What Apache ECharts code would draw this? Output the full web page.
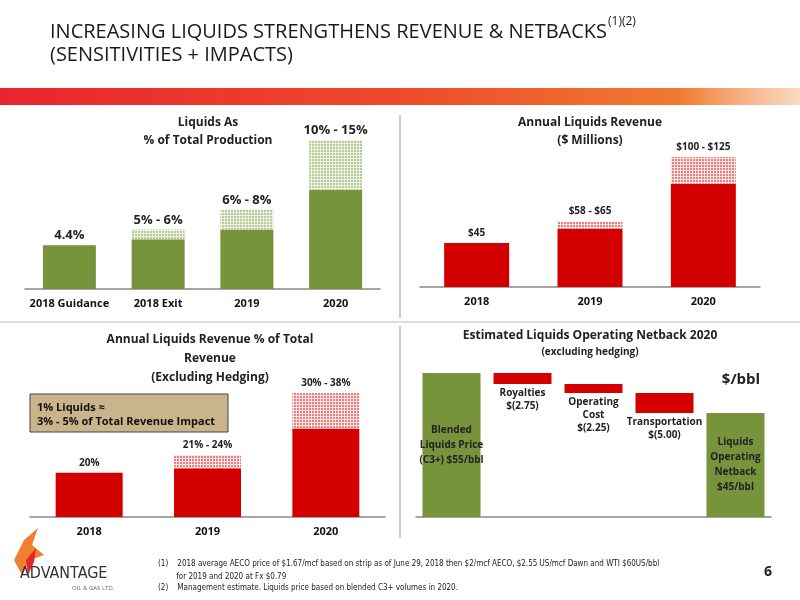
<!DOCTYPE html>
<html><head><meta charset="utf-8">
<script src="https://cdn.jsdelivr.net/npm/echarts@6/dist/echarts.min.js"></script>
<style>html,body{margin:0;padding:0;background:#fff}#c{width:800px;height:600px}</style>
</head><body><div id="c"></div>
<script>
// Chart 1: Liquids as % of total production
const prodCats = ['2018 Guidance', '2018 Exit', '2019', '2020'];
const prodLow = [4.4, 5, 6, 10];
const prodRange = [0, 1, 2, 5];
const prodLabels = ['4.4%', '5% - 6%', '6% - 8%', '10% - 15%'];
// Chart 2: Annual liquids revenue ($ millions)
const revCats = ['2018', '2019', '2020'];
const revLow = [45, 58, 100];
const revRange = [0, 7, 25];
const revLabels = ['$45', '$58 - $65', '$100 - $125'];
// Chart 3: Revenue % of total
const pctCats = ['2018', '2019', '2020'];
const pctLow = [20, 21, 30];
const pctRange = [0, 3, 8];
const pctLabels = ['20%', '21% - 24%', '30% - 38%'];
// Chart 4: Netback waterfall
const nbCats = ['Blended', 'Royalties', 'Operating Cost', 'Transportation', 'Netback'];
const nbStart = [55, 55, 52.25, 50, 45];
const nbDelta = [0, 2.75, 2.25, 5.00, 0];
const nbLabels = ['Blended\nLiquids Price\n(C3+) $55/bbl', 'Royalties\n$(2.75)', 'Operating\nCost\n$(2.25)', 'Transportation\n$(5.00)', 'Liquids\nOperating\nNetback\n$45/bbl'];

const GREEN = '#77933c', RED = '#d40000', F = 'Open Sans', NF = 'DejaVu Sans Condensed';
const dec = c => ({symbol: 'circle', symbolSize: 0.8, color: c, dashArrayX: [[2, 1]], dashArrayY: [2, 1], rotation: 0});
const axisX = (i, cats) => ({type: 'category', gridIndex: i, data: cats, axisTick: {show: false},
  axisLine: {lineStyle: {color: '#888', width: 1.5}},
  axisLabel: {interval: 0, fontFamily: F, fontWeight: 'bold', fontSize: 11, color: '#111', margin: 9}});
const axisY = (i, min, max) => ({type: 'value', gridIndex: i, min, max, show: false, splitLine: {show: false}});
const lbl = arr => ({show: true, position: 'top', fontFamily: F, fontWeight: 'bold', color: '#222', formatter: p => arr[p.dataIndex]});

const lowBase = nbStart.map((s, i) => i === 0 || i === 4 ? null : s - nbDelta[i]);
const fullBars = nbStart.map((s, i) => i === 0 || i === 4 ? s : null);
const deltas = nbDelta.map((d, i) => i === 0 || i === 4 ? null : d);

const T = (x, y, text, size, opts) => Object.assign({type: 'text', x, y, style: Object.assign({text, fontFamily: F, fontSize: size, fontWeight: 'bold', fill: '#222', align: 'center'}, opts || {})});

const chart = echarts.init(document.getElementById('c'));
chart.setOption({
  animation: false,
  grid: [
    {left: 25, width: 355, top: 140, height: 149},
    {left: 420, width: 340, top: 157, height: 130},
    {left: 30, width: 355, top: 393, height: 124},
    {left: 416, width: 355, top: 373, height: 144}
  ],
  xAxis: [axisX(0, prodCats), axisX(1, revCats), axisX(2, pctCats),
    Object.assign(axisX(3, nbCats), {axisLabel: {show: false}})],
  yAxis: [axisY(0, 0, 15), axisY(1, 4, 125), axisY(2, 10, 38), axisY(3, 19, 55)],
  series: [
    {type: 'bar', xAxisIndex: 0, yAxisIndex: 0, stack: 'a', data: prodLow, barWidth: 53, itemStyle: {color: GREEN}},
    {type: 'bar', xAxisIndex: 0, yAxisIndex: 0, stack: 'a', data: prodRange, barWidth: 53,
      itemStyle: {color: '#eef3e4', decal: dec(GREEN)}, label: Object.assign(lbl(prodLabels), {fontSize: 13, distance: 3})},
    {type: 'bar', xAxisIndex: 1, yAxisIndex: 1, stack: 'b', data: revLow, barWidth: 65, itemStyle: {color: RED}},
    {type: 'bar', xAxisIndex: 1, yAxisIndex: 1, stack: 'b', data: revRange, barWidth: 65,
      itemStyle: {color: '#fbe4e4', decal: dec(RED)}, label: Object.assign(lbl(revLabels), {fontSize: 10})},
    {type: 'bar', xAxisIndex: 2, yAxisIndex: 2, stack: 'c', data: pctLow, barWidth: 67, itemStyle: {color: RED}},
    {type: 'bar', xAxisIndex: 2, yAxisIndex: 2, stack: 'c', data: pctRange, barWidth: 67,
      itemStyle: {color: '#fbe4e4', decal: dec(RED)}, label: Object.assign(lbl(pctLabels), {fontSize: 10})},
    {type: 'bar', xAxisIndex: 3, yAxisIndex: 3, stack: 'd', data: lowBase, barWidth: 58, itemStyle: {color: 'transparent'}},
    {type: 'bar', xAxisIndex: 3, yAxisIndex: 3, stack: 'd', data: deltas, barWidth: 58, itemStyle: {color: RED},
      label: {show: true, position: 'bottom', distance: 3, fontFamily: F, fontWeight: 'bold', fontSize: 10, color: '#222', lineHeight: 13, formatter: p => nbLabels[p.dataIndex]}},
    {type: 'bar', xAxisIndex: 3, yAxisIndex: 3, stack: 'e', data: fullBars, barWidth: 58, barGap: '-100%', itemStyle: {color: GREEN},
      label: {show: true, position: 'inside', fontFamily: F, fontWeight: 'bold', fontSize: 10, color: '#222', lineHeight: 15, formatter: p => nbLabels[p.dataIndex]}}
  ],
  graphic: [
    {type: 'text', x: 50, y: 16, style: {text: '{a|INCREASING LIQUIDS STRENGTHENS REVENUE & NETBACKS}{s|(1)(2)}', align: 'left',
      rich: {a: {fontFamily: F, fontSize: 20, fill: '#1a1a1a', verticalAlign: 'bottom', lineHeight: 26},
             s: {fontFamily: F, fontSize: 12, fill: '#1a1a1a', verticalAlign: 'top', padding: [0, 0, 10, 1]}}}},
    T(50, 45, '(SENSITIVITIES + IMPACTS)', 20, {align: 'left', fontWeight: 'normal', fill: '#1a1a1a'}),
    {type: 'rect', shape: {x: 0, y: 88, width: 800, height: 17},
      style: {fill: new echarts.graphic.LinearGradient(0, 0, 1, 0, [
        {offset: 0, color: '#e8242e'}, {offset: 0.5, color: '#ee4a2a'}, {offset: 0.85, color: '#f07a30'}, {offset: 1, color: 'rgba(245,160,100,0.4)'}])}},
    {type: 'line', shape: {x1: 400, y1: 115, x2: 400, y2: 318}, style: {stroke: '#999', lineWidth: 1}},
    {type: 'line', shape: {x1: 400, y1: 326, x2: 400, y2: 538}, style: {stroke: '#999', lineWidth: 1}},
    {type: 'line', shape: {x1: 0, y1: 322, x2: 800, y2: 322}, style: {stroke: '#bbb', lineWidth: 1}},
    T(208, 114, 'Liquids As\n% of Total Production', 12, {lineHeight: 18}),
    T(590, 114, 'Annual Liquids Revenue\n($ Millions)', 12, {lineHeight: 18}),
    T(210, 330, 'Annual Liquids Revenue % of Total\nRevenue\n(Excluding Hedging)', 12, {lineHeight: 19}),
    T(590, 330, 'Estimated Liquids Operating Netback 2020', 12),
    T(590, 347, '(excluding hedging)', 10),
    T(741, 372, '$/bbl', 15),
    {type: 'rect', shape: {x: 30, y: 394, width: 198, height: 38}, style: {fill: '#c9b48c', stroke: '#444', lineWidth: 1}},
    T(37, 401, '1% Liquids ≈\n3% - 5% of Total Revenue Impact', 11, {align: 'left', lineHeight: 14, fill: '#111'}),
    {type: 'polygon', shape: {points: [[22, 575], [14, 560], [24, 540], [38, 528], [32, 545], [44, 555], [30, 560]]}, style: {fill: '#f08030'}},
    {type: 'polygon', shape: {points: [[28, 575], [26, 560], [36, 548], [34, 562]]}, style: {fill: '#e8242e'}},
    T(20, 566, 'ADVANTAGE', 16, {align: 'left', fontWeight: 'normal', fill: '#333', fontFamily: NF}),
    T(72, 585, 'OIL & GAS LTD.', 6, {align: 'left', fontWeight: 'normal', fill: '#666'}),
    T(158, 557, '(1)    2018 average AECO price of $1.67/mcf based on strip as of June 29, 2018 then $2/mcf AECO, $2.55 US/mcf Dawn and WTI $60US/bbl\n        for 2019 and 2020 at Fx $0.79', 8, {align: 'left', fontWeight: 'normal', fill: '#222', lineHeight: 13, fontFamily: NF}),
    T(158, 584, '(2)    Management estimate. Liquids price based on blended C3+ volumes in 2020.', 8, {align: 'left', fontWeight: 'normal', fill: '#222', fontFamily: NF}),
    T(768, 565, '6', 14)
  ]
});
</script></body></html>
